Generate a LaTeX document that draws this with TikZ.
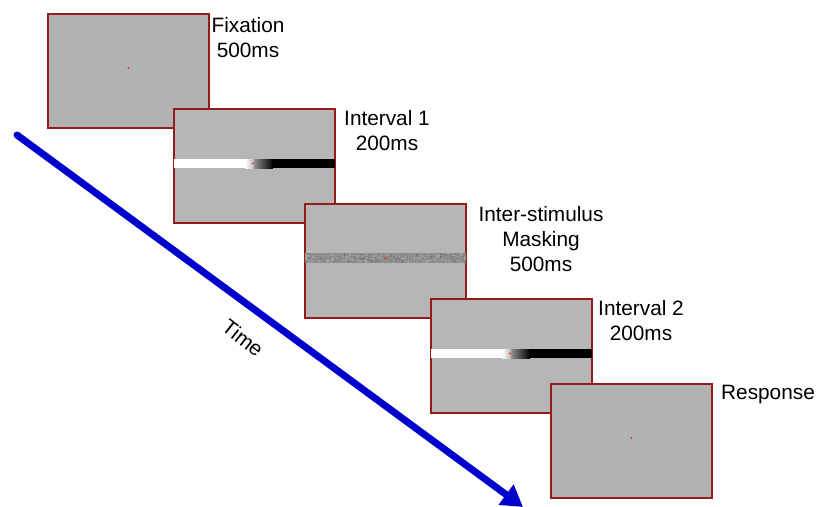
\documentclass[tikz,border=0pt]{standalone}
\usepackage{fontspec}
\setmainfont{Liberation Sans}
\usetikzlibrary{arrows.meta}
\definecolor{panelgray}{RGB}{178,178,178}
\definecolor{panelgrayB}{RGB}{182,182,182}
\definecolor{panelred}{RGB}{150,28,28}
\definecolor{dotred}{RGB}{225,50,50}
\definecolor{timeblue}{RGB}{0,0,205}
\definecolor{noisebase}{RGB}{142,142,142}
\tikzset{
  panel/.style={draw=panelred, line width=1.4pt, fill=panelgray, minimum width=161pt,
    minimum height=114pt, inner sep=0pt, outer sep=0pt, anchor=north west},
  label/.style={anchor=north, inner sep=0pt, align=center, text=black,
    font=\fontsize{20.8}{25}\selectfont},
  fixdot/.style={fill=dotred},
  timearrow/.style={draw=timeblue, line width=7pt, line cap=round,
    -{Triangle[length=21pt,width=24pt]}},
}
\newcommand{\gratingbar}[1]{%
  \begin{scope}[shift={(#1.north west)}]
    \shade[left color=panelgrayB, right color=black] (75,50) rectangle (99,59);
    \fill[black] (98,50) rectangle (161,59);
    \fill[white] (0,50) rectangle (73,59);
    \shade[left color=white, right color=panelgrayB] (71,50) rectangle (80,59);
    \fill[fixdot] (79,54.5) circle (1.2pt);
  \end{scope}}
\begin{document}
\begin{tikzpicture}[x=1pt, y=-1pt]
\useasboundingbox (0,0) rectangle (818,506);

% panel 1: fixation
\node[panel] (p1) at (48,14) {};
\fill[fixdot] ([yshift=3pt]p1.center) circle (1.1pt);
\node[label] (l1) at (248,17) {Fixation\\500ms};

% panel 2: interval 1
\node[panel, fill=panelgrayB] (p2) at (174,109) {};
\gratingbar{p2}
\node[label] (l2) at (387,110) {Interval 1\\200ms};

% panel 3: masking
\node[panel, fill=panelgrayB] (p3) at (305,204) {};
\begin{scope}[shift={(p3.north west)}]
  \fill[noisebase] (0,49) rectangle (161,59);
  \pgfmathsetseed{7}
  \foreach \i in {1,...,700}{
    \pgfmathsetmacro\rx{rnd*159.5}
    \pgfmathsetmacro\ry{49+rnd*8.5}
    \pgfmathsetmacro\gv{int(118+rnd*50)}
    \definecolor{nz}{RGB}{\gv,\gv,\gv}
    \fill[nz] (\rx,\ry) rectangle ++(1.5,1.5);
  }
  \fill[fixdot] (80,54) circle (1.2pt);
\end{scope}
\node[label] (l3) at (541,206) {Inter-stimulus\\Masking\\500ms};

% panel 4: interval 2
\node[panel, fill=panelgrayB] (p4) at (431,299) {};
\gratingbar{p4}
\node[label] (l4) at (641,300) {Interval 2\\200ms};

% panel 5: response
\node[panel] (p5) at (551,384) {};
\fill[fixdot] ([yshift=3pt]p5.center) circle (1.1pt);
\node[label] (l5) at (768,385) {Response};

% time arrow
\coordinate (tstart) at (17,135);
\coordinate (tend) at (523,507);
\draw[timearrow] (tstart) -- (tend);
\node[label, anchor=center, rotate=-38] (tl) at (243,338) {Time};
\end{tikzpicture}
\end{document}
